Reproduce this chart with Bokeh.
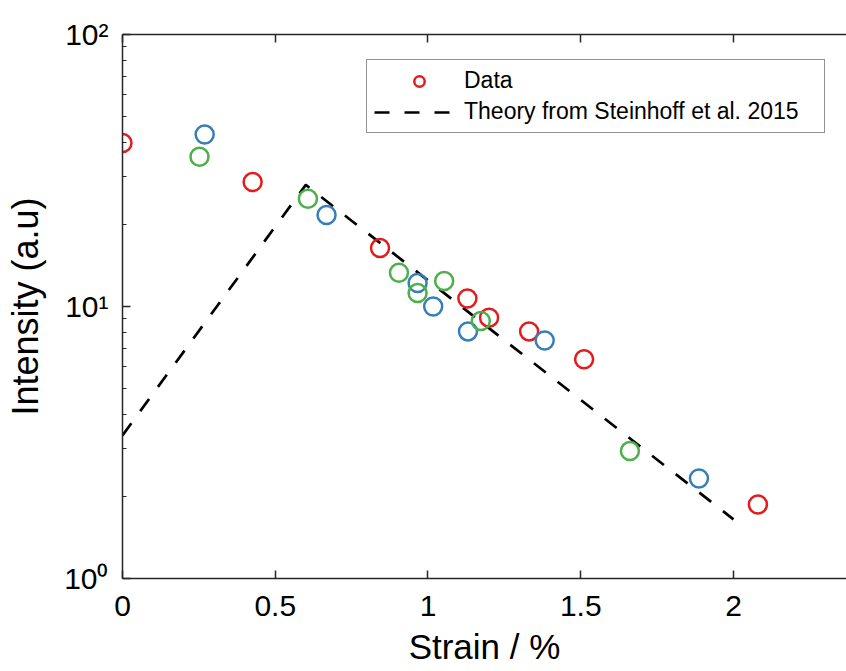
from bokeh.plotting import figure
from bokeh.models import (Range1d, LinearAxis, FixedTicker, LogTicker, Legend, LegendItem)
from bokeh.embed import file_html
from bokeh.resources import INLINE

# ---- data ----
red_x = [0.0, 0.426, 0.843, 1.129, 1.200, 1.331, 1.511, 2.080]
red_y = [39.9, 28.7, 16.4, 10.7, 9.1, 8.1, 6.4, 1.87]
blue_x = [0.269, 0.668, 0.966, 1.017, 1.131, 1.382, 1.887]
blue_y = [42.9, 21.7, 12.2, 10.0, 8.1, 7.5, 2.33]
green_x = [0.252, 0.607, 0.905, 0.966, 1.053, 1.173, 1.661]
green_y = [35.5, 24.9, 13.3, 11.2, 12.4, 8.85, 2.94]
theory_x = [0.0, 0.6, 2.0]
theory_y = [3.36, 28.0, 1.65]

x_ticks = [0, 0.5, 1, 1.5, 2]
x_tick_labels = ["0", "0.5", "1", "1.5", "2"]
y_ticks = [1, 10, 100]
y_tick_labels = ["10\u2070", "10\u00b9", "10\u00b2"]
x_label = "Strain / %"
y_label = "Intensity (a.u)"
legend_labels = ["Data", "Theory from Steinhoff et al. 2015"]

FONT = "Liberation Sans"
AX = "#262626"
RED, BLUE, GREEN = "#E41A1C", "#377EB8", "#4DAF4A"

p = figure(width=846, height=671, x_range=Range1d(0, 2.37), y_range=Range1d(1, 100),
           y_axis_type="log", output_backend="svg", toolbar_location=None,
           min_border_left=122, min_border_top=34, min_border_bottom=93, min_border_right=0)
p.outline_line_color = None
p.grid.visible = False
p.background_fill_color = "white"
p.border_fill_color = "white"

r_line = p.line(theory_x, theory_y, line_color="black", line_width=2.7, line_dash="15 15")
r_red = p.scatter(red_x, red_y, marker="circle", size=18, fill_color=None, line_color=RED, line_width=2.5)
r_blue = p.scatter(blue_x, blue_y, marker="circle", size=18, fill_color=None, line_color=BLUE, line_width=2.5)
r_green = p.scatter(green_x, green_y, marker="circle", size=18, fill_color=None, line_color=GREEN, line_width=2.5)

for ax in p.axis:
    ax.axis_line_color = AX
    ax.axis_line_width = 1.5
    ax.major_tick_line_color = AX
    ax.major_tick_line_width = 1.5
    ax.major_tick_in = 8
    ax.major_tick_out = 0
    ax.minor_tick_in = 4
    ax.minor_tick_out = 0
    ax.minor_tick_line_color = AX
    ax.major_label_text_font = FONT
    ax.major_label_text_font_size = "30px"
    ax.major_label_text_color = "black"
    ax.axis_label_text_font = FONT
    ax.axis_label_text_font_style = "normal"
    ax.axis_label_text_color = "black"

# x axis
xa = p.xaxis[0]
xa.ticker = FixedTicker(ticks=x_ticks)
xa.major_label_overrides = {t: l for t, l in zip(x_ticks, x_tick_labels)}
xa.minor_tick_line_color = None
xa.axis_label = x_label
xa.axis_label_text_font_size = "35px"
xa.major_label_standoff = 17
xa.axis_label_standoff = 8

# y axis
ya = p.yaxis[0]
ya.ticker = LogTicker(num_minor_ticks=10)
ya.major_label_overrides = {t: l for t, l in zip(y_ticks, y_tick_labels)}
ya.axis_label = y_label
ya.axis_label_text_font_size = "36px"
ya.major_label_standoff = 14
ya.axis_label_standoff = 15

# top axis (box line with inward ticks)
top = LinearAxis(ticker=FixedTicker(ticks=x_ticks), major_label_text_font_size="1px",
                 major_label_text_color=None, major_label_standoff=0,
                 axis_line_color=AX, axis_line_width=1.5, major_tick_line_color=AX,
                 major_tick_line_width=1.5, major_tick_in=8, major_tick_out=0,
                 minor_tick_line_color=None)
p.add_layout(top, "above")

legend = Legend(items=[LegendItem(label=legend_labels[0], renderers=[r_red]),
                       LegendItem(label=legend_labels[1], renderers=[r_line])],
                location=(244, 445), padding=7, spacing=4, margin=0,
                glyph_width=90, glyph_height=26, label_height=26, label_width=353,
                label_standoff=0, label_text_font=FONT, label_text_font_size="23px",
                label_text_color="black", border_line_color=AX, border_line_width=1.5,
                background_fill_color="white", background_fill_alpha=1.0)
p.add_layout(legend, "center")

open("out.html", "w").write(file_html(p, INLINE))
